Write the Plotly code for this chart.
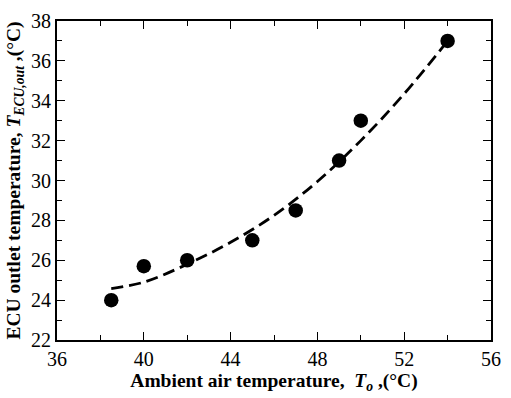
import plotly.graph_objects as go

# measured data points
ambient_temp = [38.5, 40, 42, 45, 47, 49, 50, 54]
ecu_outlet_temp = [24.0, 25.7, 26.0, 27.0, 28.5, 31.0, 33.0, 37.0]

# trend (dashed) curve
trend_x = [38.5, 40, 42, 44, 46, 48, 50, 52, 54]
trend_y = [24.58, 24.9, 25.8, 26.9, 28.25, 29.95, 32.0, 34.35, 37.0]

x_ticks = [36, 40, 44, 48, 52, 56]
y_ticks = [22, 24, 26, 28, 30, 32, 34, 36, 38]

fig = go.Figure()
fig.add_trace(go.Scatter(x=trend_x, y=trend_y, mode="lines",
                         line=dict(color="black", width=2.8, dash="12px,6px", shape="spline"),
                         showlegend=False, hoverinfo="skip"))
fig.add_trace(go.Scatter(x=ambient_temp, y=ecu_outlet_temp, mode="markers",
                         marker=dict(color="black", size=14.5),
                         showlegend=False))

font_family = "Times New Roman"
fig.update_layout(
    width=511, height=398,
    margin=dict(l=57, r=10, t=10, b=56),
    paper_bgcolor="white", plot_bgcolor="white",
    font=dict(family=font_family, color="black", size=20),
    xaxis=dict(range=[36, 56], tickvals=x_ticks, ticktext=[str(v) for v in x_ticks],
               ticks="inside", ticklen=8, tickwidth=1, tickcolor="black",
               minor=dict(dtick=2, tick0=36, ticks="inside", ticklen=5, tickcolor="black"),
               showline=True, linecolor="black", linewidth=2, mirror="allticks",
               showgrid=False, zeroline=False,
               tickfont=dict(size=20, family=font_family, color="black"),
               title=dict(text="<b>Ambient air temperature,  <i>T<sub>o</sub></i> ,(°C)</b>",
                          font=dict(size=19.5, family=font_family), standoff=4)),
    yaxis=dict(range=[22, 38], tickvals=y_ticks, ticktext=[str(v) for v in y_ticks],
               ticks="inside", ticklen=8, tickwidth=1, tickcolor="black",
               minor=dict(dtick=1, tick0=22, ticks="inside", ticklen=5, tickcolor="black"),
               showline=True, linecolor="black", linewidth=2, mirror="allticks",
               showgrid=False, zeroline=False,
               tickfont=dict(size=20, family=font_family, color="black")),
    annotations=[dict(text="<b>ECU outlet temperature, <i>T<sub>ECU,out</sub></i> ,(°C)</b>",
                      textangle=-90, xref="paper", yref="paper",
                      x=-0.099, y=0.5, xanchor="center", yanchor="middle",
                      showarrow=False, font=dict(size=19.5, family=font_family, color="black"))],
)

fig.write_html("out.html")
